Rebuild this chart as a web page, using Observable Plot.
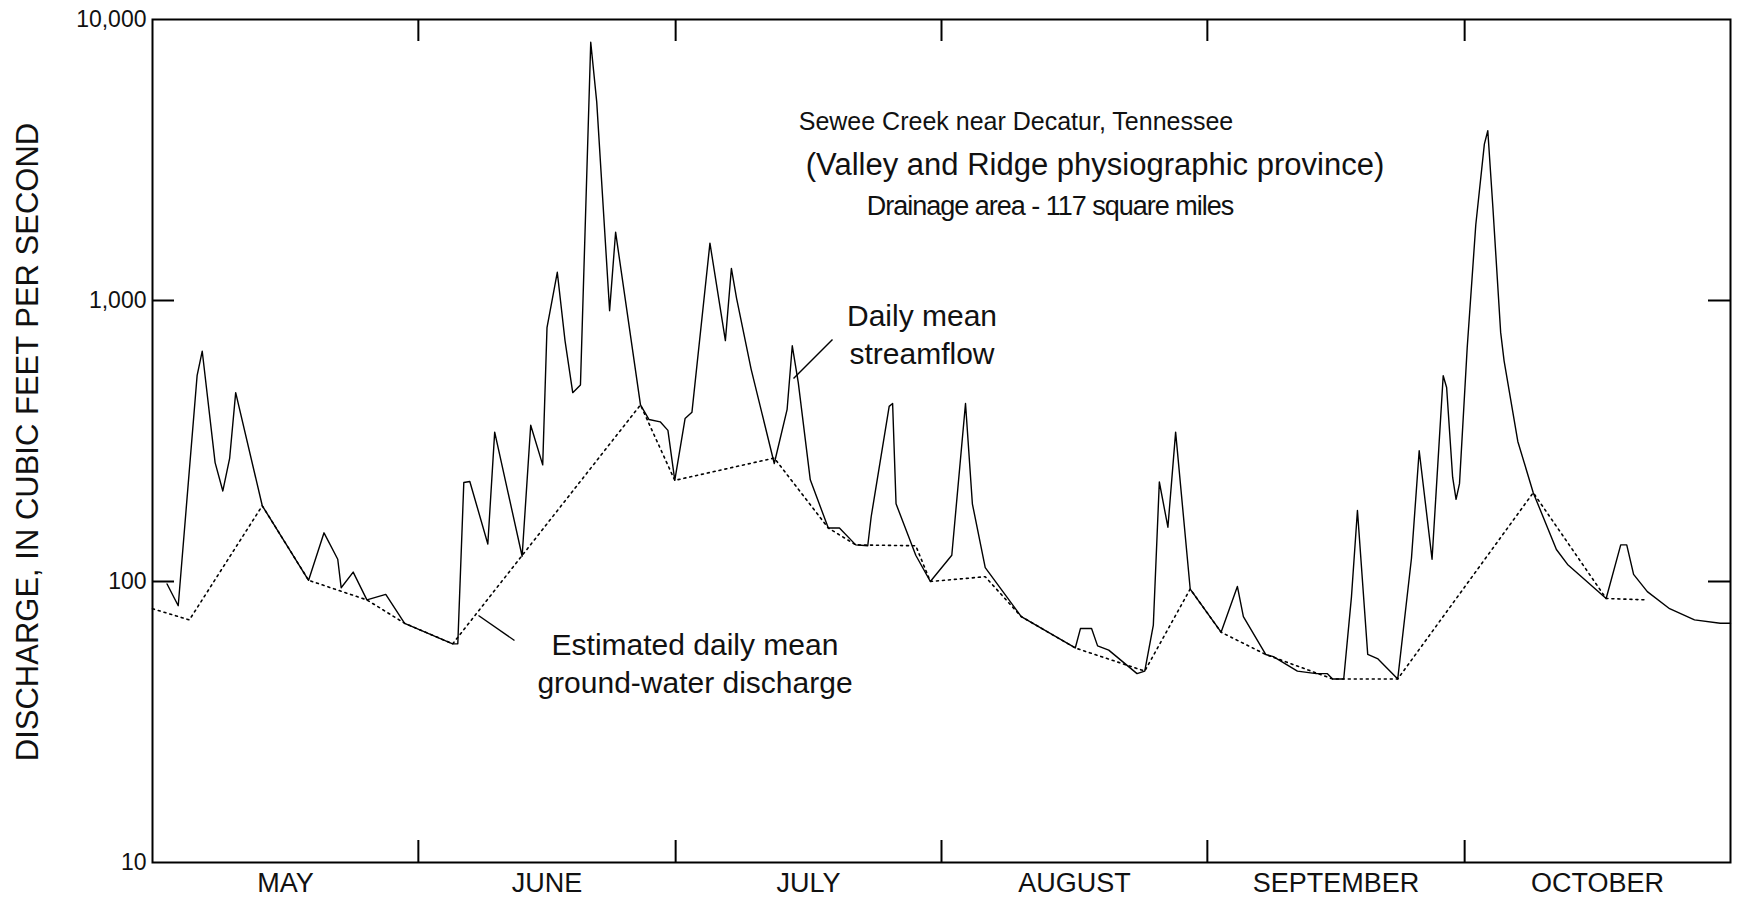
<!DOCTYPE html>
<html><head><meta charset="utf-8">
<script src="https://cdn.jsdelivr.net/npm/d3@7"></script>
<script src="https://cdn.jsdelivr.net/npm/@observablehq/plot@0.6"></script>
<style>
body{margin:0;background:#fff;font-family:"Liberation Sans",Arial,sans-serif;}
#wrap{position:relative;width:1741px;height:897px;}
.ann{position:absolute;color:#111;text-align:center;white-space:nowrap;transform:translateX(-50%);}
</style></head><body>
<div id="wrap"></div>
<script>
// days since May 1
const flowDay = [0,1.7,3.0,5.2,5.8,7.3,8.2,9.0,9.7,12.8,18.2,20.0,21.6,22.0,23.4,25.0,27.2,29.4,35.0,35.6,36.3,37.0,39.1,39.9,43.1,44.1,45.5,46.0,47.2,48.1,49.0,49.9,51.1,51.8,53.3,54.0,56.9,57.9,59.2,60.1,60.9,62.1,62.9,65.0,66.8,67.5,68.1,69.8,72.5,74.0,74.6,75.3,76.7,78.8,80.1,82.0,83.4,83.8,85.9,86.3,86.7,89.0,90.7,93.2,94.8,95.6,97.1,101.3,107.6,108.2,109.5,110.2,111.5,114.8,115.7,116.7,117.4,118.4,119.3,121.0,124.6,126.5,127.2,129.8,130.7,133.5,135.7,137.0,137.6,138.9,139.8,140.5,141.7,142.9,145.2,146.8,147.7,149.2,150.5,150.9,151.6,152.0,152.4,153.3,154.3,155.3,155.7,156.3,157.2,157.6,159.2,161.0,163.7,165.0,169.5,171.2,171.9,172.7,174.3,176.9,179.8,182.8,184];
const flowVal = [null,98,82,540,660,265,210,275,470,186,101,149,120,95,108,86,90,71,60,60,225,227,136,340,123,360,260,800,1260,720,470,500,8300,5080,920,1750,425,377,370,345,229,380,400,1600,720,1300,1020,570,263,410,690,510,230,155,155,135,134,170,420,430,189,124,100,124,430,189,112,75,58,68,68,59,57,47,48,70,226,156,340,94,66,96,75,55,54,48,47,47,45,45,88,179,55,53,45,121,292,120,540,490,235,196,223,680,1860,3600,4020,2130,770,610,315,207,130,115,87,135,135,106,92,80,73,71,71];
const baseDay = [0,4.3,12.8,18.2,25.0,29.4,35.0,56.9,60.9,72.5,78.8,82.0,89.0,90.7,97.1,101.3,107.6,115.7,121.0,124.6,129.8,137.6,145.2,161.0,169.5,174.3];
const baseVal = [80,73,186,101,86,71,60,425,229,275,155,135,134,100,104,75,58,48,94,66,55,45,45,207,87,86];
const monthBounds = [31,61,92,123,153];
const monthNames = ["MAY","JUNE","JULY","AUGUST","SEPTEMBER","OCTOBER"];
const monthMid = [15.5,46,76.5,107.5,138,168.5];
const yTicks = [10,100,1000,10000];

const flow = flowDay.map((d,i)=>({d,v:flowVal[i]})).filter(o=>o.v!=null);
const base = baseDay.map((d,i)=>({d,v:baseVal[i]}));
const W=1741,H=897,mL=152,mR=11,mT=19,mB=35;
const xs = d3.scaleLinear().domain([0,184]).range([mL,W-mR]);
const ys = d3.scaleLog().domain([10,10000]).range([H-mB,mT]);
const tick = 22;
const plot = Plot.plot({
  width:W,height:H,marginLeft:mL,marginRight:mR,marginTop:mT,marginBottom:mB,
  x:{domain:[0,184],axis:null},
  y:{type:"log",domain:[10,10000],axis:null},
  style:{fontFamily:"Liberation Sans, Arial, sans-serif",background:"#fff"},
  marks:[
    Plot.frame({stroke:"#000",strokeWidth:2}),
    Plot.line(base,{x:"d",y:"v",stroke:"#000",strokeWidth:1.6,strokeDasharray:"2,4"}),
    Plot.line(flow,{x:"d",y:"v",stroke:"#000",strokeWidth:1.4}),
    Plot.ruleX(monthBounds,{x:d=>d,y1:10,y2:10*Math.pow(1000,tick/(H-mT-mB)),stroke:"#000",strokeWidth:2}),
    Plot.ruleX(monthBounds,{x:d=>d,y1:10000/Math.pow(1000,tick/(H-mT-mB)),y2:10000,stroke:"#000",strokeWidth:2}),
    Plot.ruleY(yTicks.slice(1,3),{y:d=>d,x1:0,x2:184*tick/(W-mL-mR),stroke:"#000",strokeWidth:2}),
    Plot.ruleY(yTicks.slice(1,3),{y:d=>d,x1:184-184*tick/(W-mL-mR),x2:184,stroke:"#000",strokeWidth:2}),
    Plot.text(monthNames,{x:(d,i)=>monthMid[i],y:10,text:d=>d,dy:21,fontSize:27,fill:"#111"}),
    Plot.text(yTicks,{x:0,y:d=>d,text:d=>d3.format(",")(d),dx:-6,textAnchor:"end",fontSize:23,fill:"#111"}),
    Plot.link([{a:832,b:339,c:793,d:378},{a:514,b:640,c:478,d:615}],{x1:o=>xs.invert(o.a),y1:o=>ys.invert(o.b),x2:o=>xs.invert(o.c),y2:o=>ys.invert(o.d),stroke:"#000",strokeWidth:1.4})
  ]
});
const wrap=document.getElementById("wrap");
wrap.appendChild(plot);
plot.style.position="absolute";plot.style.left="0";plot.style.top="0";
function ann(html,x,y,fs,extra){const e=document.createElement("div");e.className="ann";e.innerHTML=html;e.style.left=x+"px";e.style.top=y+"px";e.style.fontSize=fs+"px";e.style.lineHeight=(fs*1.25)+"px";if(extra)Object.assign(e.style,extra);wrap.appendChild(e);}
ann("Sewee Creek near Decatur, Tennessee",1016,106,25);
ann("(Valley and Ridge physiographic province)",1095,146,31);
ann("Drainage area - 117 square miles",1050,190,27,{letterSpacing:"-1px"});
ann("Daily mean<br>streamflow",922,297,30);
ann("Estimated daily mean<br>ground-water discharge",695,626,30);
const yl=document.createElement("div");
yl.textContent="DISCHARGE, IN CUBIC FEET PER SECOND";
Object.assign(yl.style,{position:"absolute",left:"28px",top:"442px",fontSize:"31px",whiteSpace:"nowrap",transform:"translate(-50%,-50%) rotate(-90deg)",color:"#111"});
wrap.appendChild(yl);
</script></body></html>
